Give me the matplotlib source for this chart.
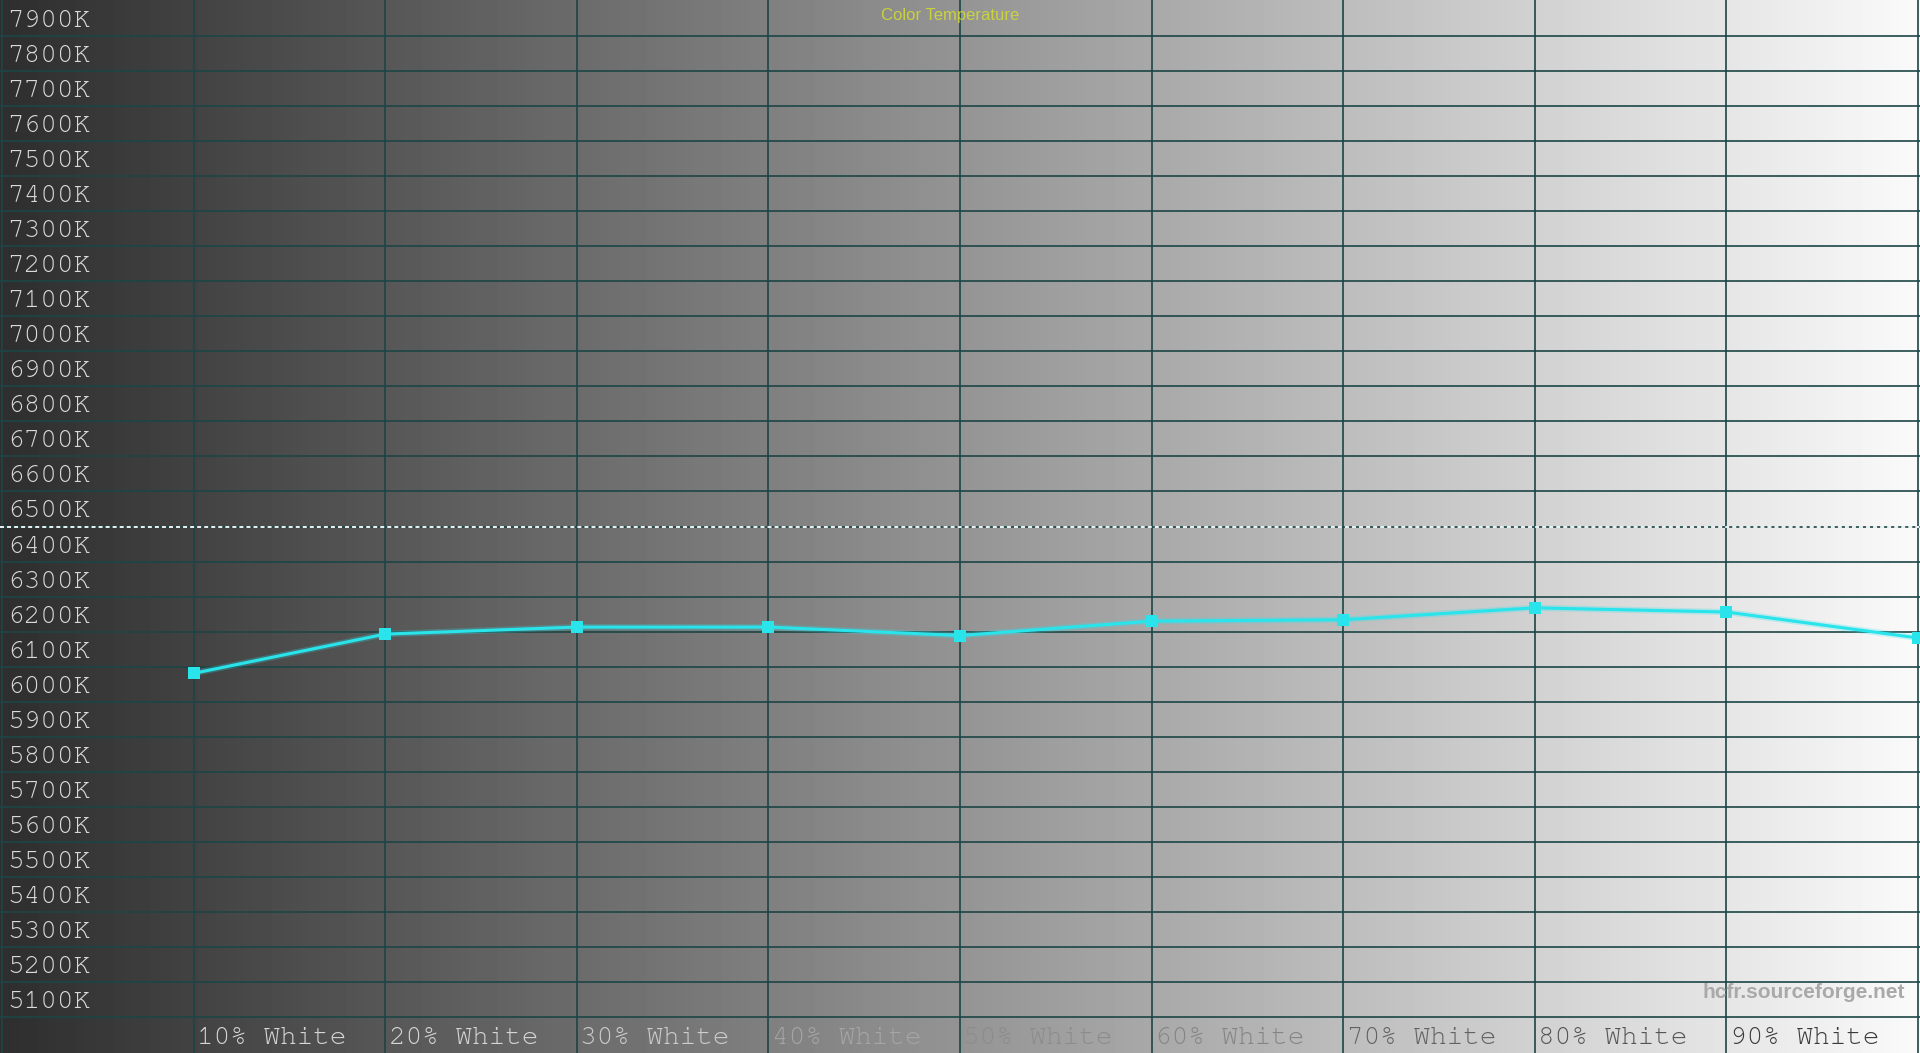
import numpy as np
import matplotlib
matplotlib.use('Agg')
import matplotlib.pyplot as plt

# measured colour temperature per grey level
levels = [10, 20, 30, 40, 50, 60, 70, 80, 90, 100]
cct = [6081, 6193, 6213, 6213, 6189, 6230, 6234, 6268, 6256, 6182]
x_labels = ['10% White', '20% White', '30% White', '40% White', '50% White',
            '60% White', '70% White', '80% White', '90% White']
x_label_pos = [10, 20, 30, 40, 50, 60, 70, 80, 90]
y_ticks = list(range(5100, 8000, 100))
y_tick_labels = ['{}K'.format(v) for v in y_ticks]
reference_cct = 6500

# label colours as seen against the grey ramp
x_label_colors = ['#d6d6d6', '#d6d6d6', '#cdcdcd', '#a6a6a6', '#8c8c8c',
                  '#858585', '#626262', '#555555', '#3a3a3a']

grid_color = '#1c4545'
line_color = '#2ae4ec'
mono = ['Courier New', 'Nimbus Mono PS', 'FreeMono', 'Liberation Mono']

fig = plt.figure(figsize=(19.2, 10.53), dpi=100)
ax = fig.add_axes([0, 0, 1, 1])
ax.set_xlim(-0.1, 100.1)
ax.set_ylim(4998, 8002)
ax.axis('off')

# grey ramp background
ramp = np.linspace(0.18, 0.98, 512).reshape(1, -1)
ax.imshow(ramp, cmap='gray', vmin=0, vmax=1, aspect='auto',
          extent=(-0.1, 100.1, 4998, 8002), zorder=0, interpolation='bilinear')

# grid
for v in y_ticks:
    ax.axhline(v, color=grid_color, lw=1.2, zorder=1)
for xv in range(0, 101, 10):
    ax.axvline(xv, color=grid_color, lw=1.2, zorder=1)

# 6500K reference
ax.axhline(reference_cct, color='white', lw=1.3, dashes=(2.2, 1.7), zorder=2)

# y labels sit just above their grid line
for v, lab in zip(y_ticks, y_tick_labels):
    ax.annotate(lab, xy=(0, v), xycoords=('axes fraction', 'data'),
                xytext=(5, 6.5), textcoords='offset points',
                ha='left', va='baseline', fontsize=20,
                family=mono, color='#dadada', zorder=3)

# x labels in the bottom band
for xv, lab, c in zip(x_label_pos, x_labels, x_label_colors):
    ax.annotate(lab, xy=(xv, 5100), xycoords='data',
                xytext=(2.5, -19), textcoords='offset points',
                ha='left', va='baseline', fontsize=20,
                family=mono, color=c, zorder=3)

# data
ax.plot(levels, cct, color=line_color, lw=4.5, alpha=0.25, zorder=4,
        solid_capstyle='round')
ax.plot(levels, cct, color=line_color, lw=2.2, marker='s', markersize=8.5,
        markeredgewidth=0, zorder=5, clip_on=True)

ax.text(49.5, 7958, 'Color Temperature', ha='center', va='center',
        fontsize=12, family='Liberation Sans', color='#c9d23e', zorder=6)
ax.text(99.3, 5170, 'hcfr.sourceforge.net', ha='right', va='center',
        fontsize=15, family='Liberation Sans', fontweight='bold',
        color='#a9a9a9', zorder=6)

fig.savefig('out.png', dpi=100)
